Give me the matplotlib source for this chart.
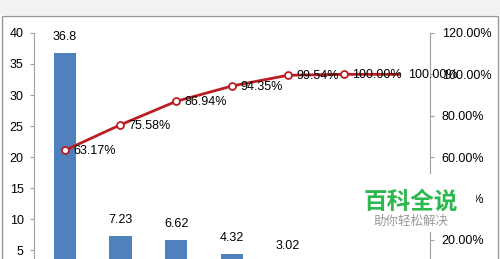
import matplotlib.pyplot as plt
from matplotlib.patches import Rectangle
from matplotlib.ticker import PercentFormatter

plt.rcParams['font.family'] = ['Liberation Sans', 'DejaVu Sans']

# data
categories = ['A', 'B', 'C', 'D', 'E', 'F', 'G']
values = [36.8, 7.23, 6.62, 4.32, 3.02, 0.27, 0.0]
cum_pct = [63.17, 75.58, 86.94, 94.35, 99.54, 100.00, 100.00]
left_ticks = [5, 10, 15, 20, 25, 30, 35, 40]
right_ticks = [0.2, 0.4, 0.6, 0.8, 1.0, 1.2]

bar_color = '#4f81bd'
line_color = '#bb1d22'

fig = plt.figure(figsize=(5, 2.59), dpi=100)
fig.patch.set_facecolor('white')

# grey band on top and the chart frame
fig.patches.append(Rectangle((0, 1 - 15 / 259), 1, 15 / 259, transform=fig.transFigure,
                             facecolor='#f2f2f2', edgecolor='none', zorder=-2))
fig.patches.append(Rectangle((1.5 / 500, -0.1), 496.5 / 500, 1 - 16 / 259 + 0.1,
                             transform=fig.transFigure, facecolor='white',
                             edgecolor='#999999', linewidth=1.0, zorder=-1))

ax = fig.add_axes([34 / 500, -0.085, (430 - 34) / 500, 0.9576])
ax.set_facecolor('none')
x = list(range(len(categories)))
bars = ax.bar(x, values, width=0.4, color=bar_color, zorder=2)
ax.set_xlim(-0.55, 6.55)
ax.set_ylim(0, 40)
ax.set_yticks(left_ticks)
ax.set_xticks([])
for s in ['top', 'right', 'bottom']:
    ax.spines[s].set_visible(False)
ax.spines['left'].set_color('#a0a0a0')
ax.tick_params(axis='y', labelsize=9, colors='#a0a0a0', labelcolor='black', length=3, pad=4.5)
for b, v in zip(bars[:5], values[:5]):
    ax.text(b.get_x() + b.get_width() / 2, v + 1.6, f'{v:g}', ha='center', va='bottom', fontsize=9)

ax2 = ax.twinx()
ax2.set_ylim(0, 1.2)
ax2.set_yticks(right_ticks)
ax2.yaxis.set_major_formatter(PercentFormatter(1.0, decimals=2))
for s in ['top', 'left', 'bottom']:
    ax2.spines[s].set_visible(False)
ax2.spines['right'].set_color('#a0a0a0')
ax2.tick_params(axis='y', labelsize=9, colors='#a0a0a0', labelcolor='black', length=3, pad=5.5)
pct = [p / 100 for p in cum_pct]
ax2.plot(x, pct, color=line_color, linewidth=2, marker='o', markersize=5,
         markerfacecolor='white', markeredgecolor=line_color, markeredgewidth=1.3,
         markevery=list(range(6)), zorder=3)
for xi, p in zip(x, cum_pct):
    ax2.text(xi + 0.15, p / 100 - 0.005, f'{p:.2f}%', ha='left', va='center', fontsize=9, zorder=4)

# watermark
fig.patches.append(Rectangle((342 / 500, 1 - 232 / 259), 134 / 500, 58 / 259,
                             transform=fig.transFigure, facecolor='white',
                             edgecolor='none', zorder=5))
fig.text(411 / 500, 1 - 202 / 259, '百科全说', ha='center', va='center', fontsize=17,
         color='#2db84d', fontweight='bold', family=['Noto Sans CJK SC'], zorder=6)
fig.text(411 / 500, 1 - 221 / 259, '助你轻松解决', ha='center', va='center', fontsize=9,
         color='#999999', family=['Noto Sans CJK SC'], zorder=6)

fig.savefig('out.png', dpi=100)
